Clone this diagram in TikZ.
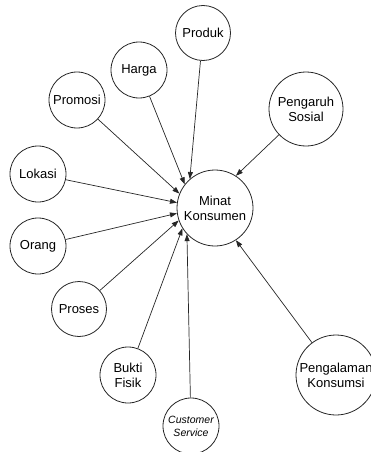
\documentclass[tikz,border=0pt]{standalone}
\usepackage{fontspec}
\setmainfont{Liberation Sans}
\usetikzlibrary{arrows.meta}
\begin{document}
\begin{tikzpicture}[x=1pt,y=-1pt,
  circ/.style={circle,draw=black!85,line width=0.8pt,inner sep=0pt,minimum size=#1,
    font=\fontsize{13}{15}\selectfont,align=center},
  conn/.style={draw=black!85,line width=0.7pt,-{Triangle[length=7pt,width=5pt]}}]
\useasboundingbox (0,0) rectangle (371,452);
\node[circ=55pt] (produk) at (203,33) {Produk};
\node[circ=56pt] (harga) at (139,70) {Harga};
\node[circ=56pt] (promosi) at (77,100) {Promosi};
\node[circ=74pt] (pengaruh) at (306,109) {Pengaruh\\Sosial};
\node[circ=56pt] (lokasi) at (38,174) {Lokasi};
\node[circ=56pt] (orang) at (38,246) {Orang};
\node[circ=76pt] (minat) at (215,208) {Minat\\Konsumen};
\node[circ=55pt] (proses) at (79,309) {Proses};
\node[circ=56pt] (bukti) at (128,375) {Bukti\\Fisik};
\node[circ=56pt,font=\fontsize{10.5}{13}\selectfont\itshape] (cs) at (191,426) {Customer\\Service};
\node[circ=80pt] (pengalaman) at (336,375) {Pengalaman\\Konsumsi};
\draw[conn] (produk) -- (minat.131);
\draw[conn] (harga) -- (minat.142);
\draw[conn] (promosi) -- (minat.158);
\draw[conn] (lokasi) -- (minat.172);
\draw[conn] (orang) -- (minat.188);
\draw[conn] (proses) -- (minat.199);
\draw[conn] (bukti) -- (minat.212);
\draw[conn] (cs) -- (minat.223);
\draw[conn] (pengaruh) -- (minat.57);
\draw[conn] (pengalaman) -- (minat.303);
\end{tikzpicture}
\end{document}
